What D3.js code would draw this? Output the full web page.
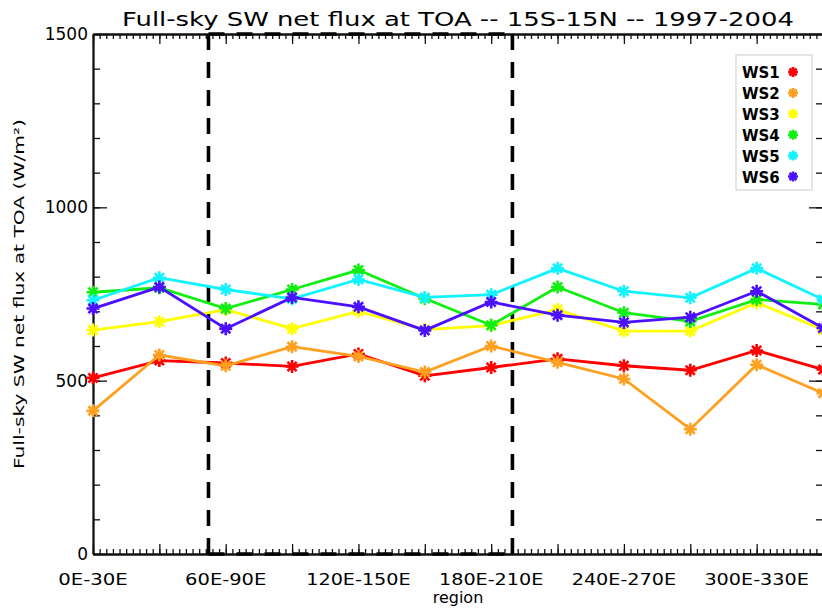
<!DOCTYPE html>
<html>
<head>
<meta charset="utf-8">
<script src="https://cdn.jsdelivr.net/npm/d3@7"></script>
<style>
  body { margin: 0; background: #fff; }
  text { font-family: "DejaVu Sans", sans-serif; fill: #000; }
</style>
</head>
<body>
<div id="container"></div>
<script>
const regions = ['0E-30E', '30E-60E', '60E-90E', '90E-120E', '120E-150E', '150E-180E',
  '180E-210E', '210E-240E', '240E-270E', '270E-300E', '300E-330E', '330E-360E'];
const shownLabels = ['0E-30E', '60E-90E', '120E-150E', '180E-210E', '240E-270E', '300E-330E'];
const seriesNames = ['WS1', 'WS2', 'WS3', 'WS4', 'WS5', 'WS6'];
const ws1 = [508, 558, 551, 541, 577, 514, 538, 563, 543, 530, 587, 532];
const ws2 = [413, 574, 543, 598, 570, 525, 600, 553, 505, 360, 546, 464];
const ws3 = [646, 670, 705, 650, 700, 647, 659, 705, 643, 643, 725, 647];
const ws4 = [755, 768, 708, 763, 819, 737, 660, 770, 696, 671, 734, 720];
const ws5 = [732, 797, 763, 736, 792, 740, 748, 824, 758, 739, 824, 734];
const ws6 = [708, 770, 650, 740, 713, 645, 727, 689, 668, 683, 758, 652];
const yTicks = [0, 500, 1000, 1500];
// dashed box, in region-index units
const boxRange = [1.74, 6.32];

const colors = ['#ff0000', '#ffa020', '#ffff00', '#11ee11', '#11f4ff', '#4a10ff'];
const allSeries = [ws1, ws2, ws3, ws4, ws5, ws6];

const width = 822;
const height = 610;
const plotL = 93, plotR = 823, plotT = 34, plotB = 554;

const x = d3.scaleLinear().domain([0, regions.length - 1]).range([plotL, plotR]);
const y = d3.scaleLinear().domain([0, 1500]).range([plotB, plotT]);

const svg = d3.select('#container')
  .append('svg')
  .attr('width', width)
  .attr('height', height);

svg.append('rect').attr('width', width).attr('height', height).attr('fill', '#fff');

// title
svg.append('text')
  .attr('x', (plotL + plotR) / 2)
  .attr('y', 26)
  .attr('text-anchor', 'middle')
  .attr('font-size', 20)
  .attr('textLength', 672)
  .attr('lengthAdjust', 'spacingAndGlyphs')
  .text('Full-sky SW net flux at TOA -- 15S-15N -- 1997-2004');

// axes
const idx = d3.range(regions.length);
const minorX = d3.range(0, (regions.length - 1) * 10 + 1).map(d => d / 10);
const minorY = d3.range(0, 1501, 100);

const axes = svg.append('g').attr('class', 'axes');

axes.append('g')
  .attr('transform', `translate(0,${plotB})`)
  .call(d3.axisBottom(x).tickValues(minorX).tickSize(-5).tickSizeOuter(0).tickFormat(''));
axes.append('g')
  .attr('transform', `translate(0,${plotB})`)
  .call(d3.axisBottom(x).tickValues(idx).tickSize(-10).tickSizeOuter(0).tickFormat(''));
axes.append('g')
  .attr('transform', `translate(0,${plotT})`)
  .call(d3.axisTop(x).tickValues(minorX).tickSize(-5).tickSizeOuter(0).tickFormat(''));
axes.append('g')
  .attr('transform', `translate(0,${plotT})`)
  .call(d3.axisTop(x).tickValues(idx).tickSize(-10).tickSizeOuter(0).tickFormat(''));

axes.append('g')
  .attr('transform', `translate(${plotL},0)`)
  .call(d3.axisLeft(y).tickValues(minorY).tickSize(-7).tickSizeOuter(0).tickFormat(''));
axes.append('g')
  .attr('transform', `translate(${plotL},0)`)
  .call(d3.axisLeft(y).tickValues(yTicks).tickSize(-14).tickSizeOuter(0).tickPadding(5)
    .tickFormat(d3.format('d')))
  .selectAll('text')
  .attr('font-size', 17)
  .attr('font-family', '"DejaVu Sans", sans-serif');
axes.append('g')
  .attr('transform', `translate(${plotR},0)`)
  .call(d3.axisRight(y).tickValues(minorY).tickSize(-7).tickSizeOuter(0).tickFormat(''));
axes.append('g')
  .attr('transform', `translate(${plotR},0)`)
  .call(d3.axisRight(y).tickValues(yTicks).tickSize(-14).tickSizeOuter(0).tickFormat(''));

axes.selectAll('path.domain').attr('stroke', '#111').attr('stroke-width', 1.8);
axes.selectAll('line').attr('stroke', '#111').attr('stroke-width', 1.3);

// x tick labels
svg.append('g')
  .selectAll('text')
  .data(shownLabels)
  .enter()
  .append('text')
  .attr('x', d => x(regions.indexOf(d)))
  .attr('y', 585)
  .attr('text-anchor', 'middle')
  .attr('font-size', 16)
  .attr('textLength', d => d.length * 11.6)
  .attr('lengthAdjust', 'spacingAndGlyphs')
  .text(d => d);

svg.append('text')
  .attr('x', (plotL + plotR) / 2)
  .attr('y', 603)
  .attr('text-anchor', 'middle')
  .attr('font-size', 16)
  .text('region');

svg.append('text')
  .attr('transform', `translate(24,${(plotT + plotB) / 2}) rotate(-90)`)
  .attr('text-anchor', 'middle')
  .attr('font-size', 14)
  .attr('textLength', 350)
  .attr('lengthAdjust', 'spacingAndGlyphs')
  .text('Full-sky SW net flux at TOA (W/m²)');

// dashed box
const box = svg.append('g')
  .attr('fill', 'none')
  .attr('stroke', '#000')
  .attr('stroke-width', 3.6)
  .attr('stroke-dasharray', '16,12');
boxRange.forEach(b => {
  box.append('line')
    .attr('x1', x(b)).attr('x2', x(b))
    .attr('y1', y(1500)).attr('y2', y(0));
});
[1500, 0].forEach(v => {
  box.append('line')
    .attr('x1', x(boxRange[0])).attr('x2', x(boxRange[1]))
    .attr('y1', y(v)).attr('y2', y(v));
});

// asterisk marker path
const star = r => {
  const d = r * Math.SQRT1_2;
  return `M${-r},0L${r},0M0,${-r}L0,${r}M${-d},${-d}L${d},${d}M${-d},${d}L${d},${-d}`;
};

const line = d3.line().x((d, i) => x(i)).y(d => y(d));

allSeries.forEach((vals, k) => {
  const g = svg.append('g').attr('class', 'series');
  g.append('path')
    .datum(vals)
    .attr('d', line)
    .attr('fill', 'none')
    .attr('stroke', colors[k])
    .attr('stroke-width', 2.8);
  g.selectAll('.m')
    .data(vals)
    .enter()
    .append('path')
    .attr('class', 'm')
    .attr('transform', (d, i) => `translate(${x(i)},${y(d)})`)
    .attr('d', star(6.5))
    .attr('stroke', colors[k])
    .attr('stroke-width', 2.6)
    .attr('fill', 'none');
});

// legend
const legend = svg.append('g');
legend.append('rect')
  .attr('x', 736).attr('y', 55)
  .attr('width', 76).attr('height', 135)
  .attr('fill', '#fff')
  .attr('stroke', '#ccc')
  .attr('stroke-width', 1);
seriesNames.forEach((name, k) => {
  const cy = 72 + k * 20.9;
  legend.append('text')
    .attr('x', 742)
    .attr('y', cy + 6)
    .attr('font-size', 15)
    .attr('font-weight', 'bold')
    .text(name);
  legend.append('path')
    .attr('transform', `translate(793,${cy})`)
    .attr('d', star(5))
    .attr('stroke', colors[k])
    .attr('stroke-width', 2.6)
    .attr('fill', 'none');
});
</script>
</body>
</html>
